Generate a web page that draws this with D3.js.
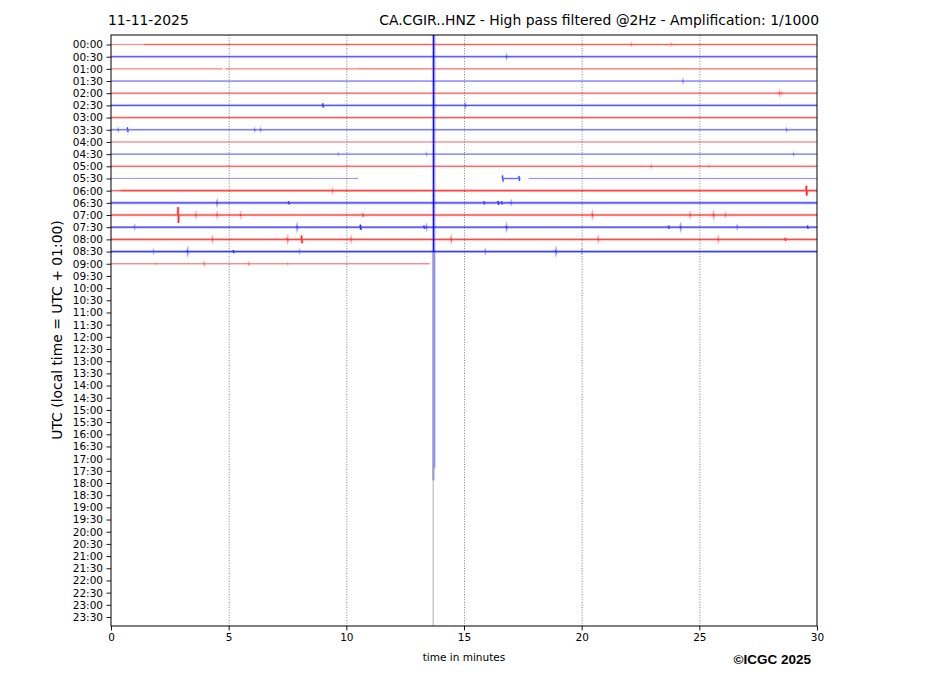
<!DOCTYPE html>
<html><head><meta charset="utf-8">
<script src="https://cdn.jsdelivr.net/npm/d3@7"></script>
<style>
html,body{margin:0;padding:0;background:#fff;}
svg text{font-family:"DejaVu Sans",sans-serif;fill:#000;}
</style></head>
<body>
<svg id="chart" width="927" height="696"></svg>
<script>
// ---- data ----
const dateLabel = "11-11-2025";
const titleText = "CA.CGIR..HNZ - High pass filtered @2Hz - Amplification: 1/1000";
const yAxisTitle = "UTC (local time = UTC + 01:00)";
const xAxisTitle = "time in minutes";
const creditText = "©ICGC 2025";
const rowLabels = ["00:00","00:30","01:00","01:30","02:00","02:30","03:00","03:30","04:00","04:30",
  "05:00","05:30","06:00","06:30","07:00","07:30","08:00","08:30","09:00","09:30",
  "10:00","10:30","11:00","11:30","12:00","12:30","13:00","13:30","14:00","14:30",
  "15:00","15:30","16:00","16:30","17:00","17:30","18:00","18:30","19:00","19:30",
  "20:00","20:30","21:00","21:30","22:00","22:30","23:00","23:30"];
const minuteTicks = [0, 5, 10, 15, 20, 25, 30];
const gridMinutes = [5, 10, 15, 20, 25];
// trace segments: [row, startMinute, endMinute, noiseLevel]
const segments = [
  [0, 0, 1.4, 0.25], [0, 1.4, 30, 0.6],
  [1, 0, 30, 0.7],
  [2, 0, 4.75, 0.3], [2, 4.85, 10.5, 0.3], [2, 10.5, 30, 0.45],
  [3, 0, 30, 0.4],
  [4, 0, 30, 0.6],
  [5, 0, 30, 0.75],
  [6, 0, 30, 0.7],
  [7, 0, 30, 0.5],
  [8, 0, 30, 0.35],
  [9, 0, 30, 0.4],
  [10, 0, 30, 0.6],
  [11, 0, 10.5, 0.15], [11, 16.62, 17.36, 0.5], [11, 17.75, 30, 0.2],
  [12, 0, 0.4, 0.6], [12, 0.4, 30, 0.9],
  [13, 0, 30, 0.9],
  [14, 0, 30, 0.85],
  [15, 0, 30, 0.85],
  [16, 0, 30, 0.85],
  [17, 0, 30, 0.9],
  [18, 0, 13.55, 0.4]
];
// local bursts: [row, minute, amplitude (rows)]
const events = [
  [0, 22.1, 0.06], [0, 23.8, 0.05],
  [1, 16.8, 0.08],
  [3, 24.3, 0.1],
  [4, 28.4, 0.1], [4, 28.5, 0.06],
  [5, 9.0, 0.16], [5, 15.05, 0.08],
  [7, 0.3, 0.08], [7, 0.7, 0.2], [7, 6.1, 0.08], [7, 6.35, 0.08], [7, 28.7, 0.08],
  [9, 9.65, 0.06], [9, 13.4, 0.08], [9, 29.0, 0.08],
  [10, 22.95, 0.06], [10, 25.4, 0.05],
  [11, 16.64, 0.25], [11, 17.34, 0.2],
  [12, 29.55, 0.4], [12, 9.4, 0.06],
  [13, 4.5, 0.08], [13, 7.55, 0.12], [13, 15.85, 0.12], [13, 16.45, 0.15], [13, 16.6, 0.12], [13, 17.0, 0.06],
  [14, 2.85, 0.65], [14, 3.6, 0.08], [14, 4.5, 0.08], [14, 5.5, 0.08], [14, 10.7, 0.12], [14, 20.45, 0.1],
  [14, 24.6, 0.08], [14, 25.6, 0.1], [14, 26.1, 0.06],
  [15, 1.0, 0.06], [15, 7.9, 0.1], [15, 10.6, 0.2], [15, 13.3, 0.12], [15, 13.4, 0.08], [15, 16.8, 0.1],
  [15, 23.7, 0.12], [15, 24.2, 0.1], [15, 26.6, 0.06], [15, 29.6, 0.12],
  [16, 4.3, 0.08], [16, 7.5, 0.1], [16, 8.1, 0.32], [16, 10.2, 0.08], [16, 14.45, 0.1], [16, 20.7, 0.08],
  [16, 25.8, 0.08], [16, 28.65, 0.12],
  [17, 1.8, 0.05], [17, 3.25, 0.1], [17, 5.2, 0.12], [17, 8.0, 0.05], [17, 15.9, 0.06], [17, 18.9, 0.1], [17, 20.0, 0.05],
  [18, 1.9, 0.05], [18, 3.95, 0.1], [18, 5.85, 0.08], [18, 7.5, 0.05]
];
// large clipped transient on 08:30 trace: [row, minute, up (rows), down (rows), kind]
const transients = [
  [17, 13.70, 20, 18.8, "halo"],
  [17, 13.69, 0, 32, "tail"],
  [17, 13.70, 20, 0, "core"],
  [17, 13.76, 20, 17.8, "core2"]
];

// ---- layout ----
const svg = d3.select("#chart");
const mLeft = 111, mRight = 817, mTop = 35, mBottom = 626;
const x = d3.scaleLinear().domain([0, 30]).range([mLeft, mRight]);
const y = d3.scaleLinear().domain([-0.78, 47.74]).range([mTop, mBottom]);
const colorOf = r => (r % 2 === 0 ? "#ff0000" : "#0000ff");

svg.append("defs").append("clipPath").attr("id", "plotclip")
  .append("rect").attr("x", mLeft).attr("y", mTop).attr("width", mRight - mLeft).attr("height", mBottom - mTop);

// grid
svg.append("g").selectAll("line").data(gridMinutes).join("line")
  .attr("x1", d => x(d) + 0.5).attr("x2", d => x(d) + 0.5)
  .attr("y1", mTop).attr("y2", mBottom)
  .attr("stroke", "#666").attr("stroke-width", 0.8).attr("stroke-dasharray", "1,1.6");

const plot = svg.append("g").attr("clip-path", "url(#plotclip)");

// traces
const line = d3.line().x(d => x(d[0])).y(d => y(d[1]));
segments.forEach(([row, s, e, lvl]) => {
  const evs = events.filter(ev => ev[0] === row && ev[1] >= s && ev[1] <= e).sort((a, b) => a[1] - b[1]);
  const pts = [[s, row]];
  evs.forEach(([r, m, a]) => {
    pts.push([m - 0.02, row], [m, row - a], [m + 0.015, row + a], [m + 0.035, row]);
  });
  pts.push([e, row]);
  plot.append("path").attr("d", line(pts))
    .attr("fill", "none").attr("stroke", colorOf(row))
    .attr("stroke-opacity", 0.12 + 0.22 * lvl)
    .attr("stroke-width", 1 + 1.8 * lvl);
  plot.append("path").attr("d", line(pts))
    .attr("fill", "none").attr("stroke", colorOf(row))
    .attr("stroke-opacity", 0.25 + 0.7 * lvl)
    .attr("stroke-width", 0.8);
});

// transient
transients.forEach(([row, m, up, down, kind]) => {
  const l = plot.append("line")
    .attr("x1", x(m)).attr("x2", x(m))
    .attr("y1", y(row - up)).attr("y2", y(row + down))
    .attr("stroke", "#0000ff");
  if (kind === "halo") l.attr("stroke-opacity", 0.28).attr("stroke-width", 2.6);
  else if (kind === "tail") l.attr("stroke", "#555577").attr("stroke-opacity", 0.6).attr("stroke-width", 0.8);
  else if (kind === "core") l.attr("stroke-width", 1);
  else l.attr("stroke-opacity", 0.5).attr("stroke-width", 0.9);
});

// axes
const yAxis = svg.append("g").attr("transform", `translate(${mLeft},0)`)
  .call(d3.axisLeft(y).tickValues(d3.range(rowLabels.length)).tickFormat(i => rowLabels[i]).tickSize(4.5).tickPadding(3.5));
yAxis.select(".domain").remove();
yAxis.selectAll("text").style("font-size", "10.5px").style("font-family", "DejaVu Sans");
yAxis.selectAll("line").attr("stroke", "#000").attr("stroke-width", 0.9);

const xAxis = svg.append("g").attr("transform", `translate(0,${mBottom})`)
  .call(d3.axisBottom(x).tickValues(minuteTicks).tickFormat(d3.format("d")).tickSize(4.5).tickPadding(3.5));
xAxis.select(".domain").remove();
xAxis.selectAll("text").style("font-size", "10.5px").style("font-family", "DejaVu Sans");
xAxis.selectAll("line").attr("stroke", "#000").attr("stroke-width", 0.9);

// frame
svg.append("rect").attr("x", mLeft).attr("y", mTop).attr("width", mRight - mLeft).attr("height", mBottom - mTop)
  .attr("fill", "none").attr("stroke", "#000").attr("stroke-width", 1);

// texts
svg.append("text").attr("x", 108).attr("y", 25).style("font-size", "13.9px").text(dateLabel);
svg.append("text").attr("x", 819).attr("y", 25).attr("text-anchor", "end").style("font-size", "13.9px").text(titleText);
svg.append("text").attr("transform", "translate(62,330) rotate(-90)").attr("text-anchor", "middle")
  .style("font-size", "13.9px").text(yAxisTitle);
svg.append("text").attr("x", (mLeft + mRight) / 2).attr("y", 661).attr("text-anchor", "middle")
  .style("font-size", "10.5px").text(xAxisTitle);
svg.append("text").attr("x", 811).attr("y", 664).attr("text-anchor", "end")
  .style("font-family", "'Liberation Sans', Arial, sans-serif").style("font-weight", "bold").style("font-size", "13.5px")
  .text(creditText);
</script>
</body></html>
